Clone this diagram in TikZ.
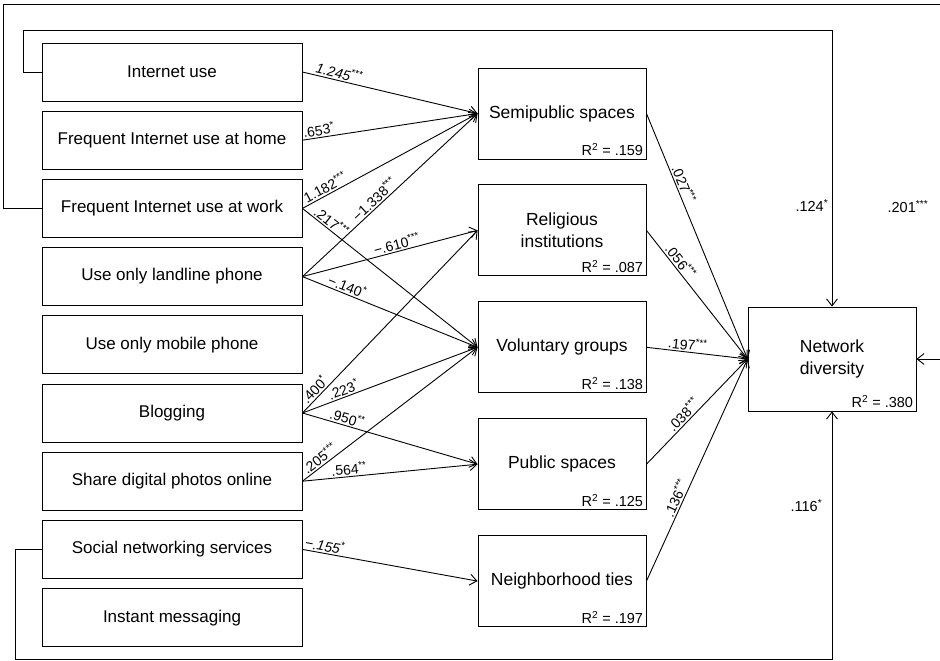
\documentclass[tikz,border=0pt]{standalone}
\usepackage{fontspec}
\setmainfont{Liberation Sans}
\usepackage{tikz}
\usetikzlibrary{arrows,arrows.meta,positioning}
\tikzset{basic/.style={draw,line width=0.9pt,
                       text badly centered,inner sep=2pt}}
\tikzset{input/.style={basic,rectangle,minimum width=260pt,minimum height=58pt,
                       font=\fontsize{17}{20}\selectfont}}
\tikzset{mediator/.style={basic,rectangle,minimum width=168pt,minimum height=91pt,
                       align=center,font=\fontsize{17.5}{22}\selectfont}}
\tikzset{outcome/.style={mediator,minimum height=104pt}}
\tikzset{rsq/.style={anchor=south east,inner sep=3pt,font=\fontsize{14.5}{16}\selectfont}}
\tikzset{coef/.style={sloped,above,inner sep=1.5pt,font=\fontsize{14}{16}\selectfont}}
\tikzset{fbk/.style={left,font=\fontsize{14.5}{16}\selectfont}}

\begin{document}
\begin{tikzpicture}[x=1pt,y=-1pt,line width=0.9pt,
                    >={Straight Barb[length=7pt,width=11pt]}]
    \useasboundingbox (0,0) rectangle (940,661);
    % Predictors
    \foreach \h [count=\hi ] in {Internet use,Frequent Internet use at home,
          Frequent Internet use at work,Use only landline phone,
          Use only mobile phone,Blogging,Share digital photos online,
          Social networking services,Instant messaging}{%
          \node[input] (f\hi) at (172,72+\hi*68.2-68.2) {\h};
        }
    % Mediators
    \foreach \h/\r [count=\hi ] in {Semipublic spaces/.159,
          {Religious\\institutions}/.087,Voluntary groups/.138,
          Public spaces/.125,Neighborhood ties/.197}{%
          \node[mediator,label={[rsq]south east:R\textsuperscript{2} = \r}]
                (m\hi) at (562,113.5+\hi*116.9-116.9) {\h};
        }
    \node[outcome,label={[rsq]south east:R\textsuperscript{2} = .380}]
          (nd) at (832,359) {Network\\diversity};
    % Paths to mediators
    \foreach \s/\t/\p/\c in {1/1/.2/{\itshape 1.245\textsuperscript{***}},
          2/1/.1/{.653\textsuperscript{*}},
          3/1/.15/{1.182\textsuperscript{***}},
          3/3/.14/{.217\textsuperscript{***}},
          4/1/.44/{−1.338\textsuperscript{***}},
          4/2/.55/{−.610\textsuperscript{***}},
          4/3/.24/{−.140\textsuperscript{*}},
          6/2/.1/{.400\textsuperscript{*}},
          6/3/.25/{.223\textsuperscript{*}},
          6/4/.245/{.950\textsuperscript{**}},
          7/3/.125/{.205\textsuperscript{***}},
          7/4/.27/{.564\textsuperscript{**}},
          8/5/.12/{\itshape −.155\textsuperscript{*}}}{%
          \draw[->] (f\s.east) -- node[coef,pos=\p] {\c} (m\t.west);
        }
    % Paths to network diversity
    \foreach \p/\c [count=\hi ] in {.3/{.027\textsuperscript{***}},
          .28/{.056\textsuperscript{***}},.4/{.197\textsuperscript{***}},
          .42/{.038\textsuperscript{***}},.36/{.136\textsuperscript{***}}}{%
          \draw[->] (m\hi.east) -- node[coef,pos=\p] {\c} (nd.west);
        }
    % Direct effects
    \coordinate (topin) at (832,30);
    \coordinate (topout) at (942,4);
    \coordinate (rightout) at (942,359);
    \coordinate (bot) at (832,659);
    \draw[->] (f1.west) -- ++(-18,0) |- (topin)
          -- node[fbk,pos=.635] {.124\textsuperscript{*}} (nd.north);
    \draw[->] (f3.west) -- ++(-38,0) |- (topout)
          -- node[fbk,pos=.57,xshift=-10pt] {.201\textsuperscript{***}} (rightout)
          -- (nd.east);
    \draw[->] (f8.west) -- ++(-26,0) |- (bot)
          -- node[fbk,pos=.62,xshift=-6pt] {.116\textsuperscript{*}} (nd.south);
\end{tikzpicture}
\end{document}
